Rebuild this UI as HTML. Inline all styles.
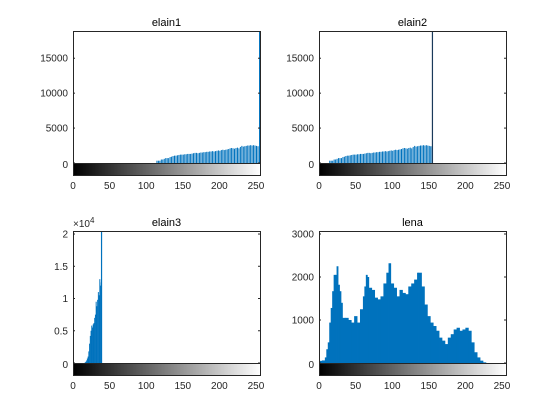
<!DOCTYPE html>
<html><head><meta charset="utf-8"><style>
body{margin:0;background:#fff;}
svg{display:block;font-family:"Liberation Sans",Arial,sans-serif;font-size:10px;}
</style></head><body>
<svg id="fig" width="560" height="420">
<defs><linearGradient id="gray" x1="0" x2="1" y1="0" y2="0"><stop offset="0" stop-color="#000"/><stop offset="1" stop-color="#fff"/></linearGradient></defs>
</svg>
<script>
const elain1Levels=[114,116,118,120,122,124,126,128,130,132,134,136,138,140,142,144,146,148,150,152,154,156,158,160,162,164,166,168,170,172,174,176,178,180,182,184,186,188,190,192,194,196,198,200,202,204,206,208,210,212,214,216,218,220,222,224,226,228,230,232,234,236,238,240,242,244,246,248,250,252,254];
const elain1Counts=[330,330,330,500,500,600,700,700,700,850,900,1000,1050,1050,1100,1150,1200,1200,1200,1250,1250,1300,1300,1300,1350,1400,1450,1450,1400,1450,1500,1500,1550,1550,1600,1600,1650,1650,1700,1650,1700,1750,1800,1750,1850,1900,1850,1900,1950,2000,2100,2150,2100,2050,2150,2200,2100,2300,2450,2350,2400,2450,2500,2500,2550,2500,2550,2500,2450,2400,2400];
const elain1Spike=[255,18900];
const elain2Levels=[14,16,18,20,22,24,26,28,30,32,34,36,38,40,42,44,46,48,50,52,54,56,58,60,62,64,66,68,70,72,74,76,78,80,82,84,86,88,90,92,94,96,98,100,102,104,106,108,110,112,114,116,118,120,122,124,126,128,130,132,134,136,138,140,142,144,146,148,150,152,154];
const elain2Counts=[330,330,330,500,500,600,700,700,700,850,900,1000,1050,1050,1100,1150,1200,1200,1200,1250,1250,1300,1300,1300,1350,1400,1450,1450,1400,1450,1500,1500,1550,1550,1600,1600,1650,1650,1700,1650,1700,1750,1800,1750,1850,1900,1850,1900,1950,2000,2100,2150,2100,2050,2150,2200,2100,2300,2450,2350,2400,2450,2500,2500,2550,2500,2550,2500,2450,2400,2400];
const elain2Spike=[155,18900];
const elain3Levels=[16,17,18,19,20,21,22,23,24,25,26,27,28,29,30,31,32,33,34,35,36,37,38];
const elain3Counts=[100,200,400,700,1000,1800,3000,4200,5000,5800,5500,6000,6200,7000,7500,9500,8800,9800,11000,10500,13000,12000,12500];
const elain3Spike=[39,20470];
const lenaLevels=[0,4,8,10,12,14,16,18,20,22,24,26,28,30,32,36,40,44,48,52,56,60,62,64,66,68,72,76,80,84,88,92,95,98,102,106,110,114,118,122,126,130,134,136,140,144,148,152,156,160,164,168,172,176,180,184,188,192,196,200,204,208,212,216,220,224];
const lenaCounts=[50,60,130,320,480,940,1280,1670,2050,2050,2250,1820,1670,1400,1050,1050,1000,940,1090,940,1250,1550,1780,2050,2000,1750,1700,1520,1480,1550,1850,2100,2320,1850,1750,1550,1700,1630,1600,1780,1850,1940,2100,2100,1780,1360,1090,940,860,750,590,520,440,590,670,780,820,750,780,820,750,480,250,130,55,15];
const xTicks=[0,50,100,150,200,250];
const NS='http://www.w3.org/2000/svg';
const svg=document.getElementById('fig');
function mk(tag,attrs,parent){const e=document.createElementNS(NS,tag);for(const k in attrs)e.setAttribute(k,attrs[k]);(parent||svg).appendChild(e);return e;}
function panel(opt){
  const g=mk('g',{});
  
  
  const L=opt.x,T=opt.y,W=187,B=T+132,CB=B+12;
  const xs=v=>L+v*W/255.5;
  const ys=c=>B-c*(B-T)/opt.ymax;
  for(let i=0;i<opt.levels.length;i++){
    const c=opt.counts[i],h=Math.max(0,B-ys(c));
    let w=opt.bw*W/255.5;
    if(opt.fill){const nx=i+1<opt.levels.length?opt.levels[i+1]:opt.levels[i]+4;w=(nx-opt.levels[i])*W/255.5+0.4;}
    const r=mk('rect',{x:xs(opt.levels[i]),y:B-h,width:w,height:h,fill:'#0072BD'},g);
    
    
  }
  if(opt.spike){
    const s=mk('line',{x1:xs(opt.spike[0]),x2:xs(opt.spike[0]),y1:B,y2:Math.max(T,ys(opt.spike[1])),stroke:opt.spikeColor||'#0072BD','stroke-width':1.2},g);
    
    
  }
  const box=mk('path',{d:`M${L+.5},${B} V${T+.5} H${L+W+.5} V${B}`,fill:'none',stroke:'#262626','stroke-width':1},g);
  
  
  const cb=mk('rect',{x:L+.5,y:B+.5,width:W,height:CB-B,fill:'url(#gray)',stroke:'#262626','stroke-width':1},g);
  
  
  opt.yticks.forEach((t,i)=>{
    const y=ys(t);
    mk('line',{x1:L,x2:L+2,y1:y,y2:y,stroke:'#262626'},g);
    mk('line',{x1:L+W-2,x2:L+W,y1:y,y2:y,stroke:'#262626'},g);
    const tx=mk('text',{x:L-5,y:y+(i===0?5:3.5),'text-anchor':'end',fill:'#262626'},g);
    tx.textContent=opt.ylabels[i];
    
    
  });
  xTicks.forEach(t=>{
    const tx=mk('text',{x:xs(t),y:CB+14,'text-anchor':'middle',fill:'#262626'},g);
    tx.textContent=String(t);
    
    
  });
  const ti=mk('text',{x:L+W/2,y:T-5,'text-anchor':'middle',fill:'#000','font-size':'11px'},g);
  ti.textContent=opt.name;
  
  
  if(opt.expo){
    const ex=mk('text',{x:L,y:T-4,fill:'#262626'},g);
    ex.innerHTML='×10<tspan dy="-4" font-size="8">4</tspan>';
    
    
  }
}
panel({name:'elain1',x:73,y:31,ymax:18900,levels:elain1Levels,counts:elain1Counts,bw:1.4,spike:elain1Spike,yticks:[0,5000,10000,15000],ylabels:['0','5000','10000','15000']});
panel({name:'elain2',x:319,y:31,ymax:18900,levels:elain2Levels,counts:elain2Counts,bw:1.4,spike:elain2Spike,spikeColor:'#1a3a5a',yticks:[0,5000,10000,15000],ylabels:['0','5000','10000','15000']});
panel({name:'elain3',x:73,y:231,ymax:20470,levels:elain3Levels,counts:elain3Counts,bw:1.3,spike:elain3Spike,yticks:[0,5000,10000,15000,20000],ylabels:['0','0.5','1','1.5','2'],expo:true});
panel({name:'lena',x:319,y:231,ymax:3070,levels:lenaLevels,counts:lenaCounts,bw:4,fill:true,yticks:[0,1000,2000,3000],ylabels:['0','1000','2000','3000']});
</script>
</body></html>
